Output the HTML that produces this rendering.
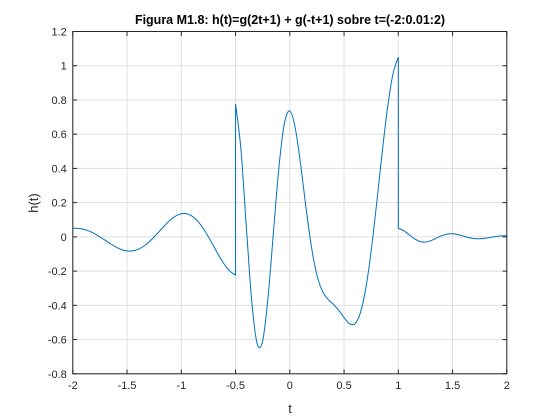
<!DOCTYPE html>
<html><head><meta charset="utf-8">
<style>
html,body{margin:0;padding:0;background:#fff;}
svg{display:block;font-family:"Liberation Sans",Arial,sans-serif;}
</style></head>
<body>
<svg id="chart" width="560" height="420" viewBox="0 0 560 420">
  <rect width="560" height="420" fill="#fff"/>
  <g id="grid"></g>
  <g id="series"></g>
  <rect x="72.8" y="31.5" width="434" height="342.3" fill="none" stroke="#262626" stroke-width="1"/>
  <g id="ticks"></g>
  <text x="290" y="24" text-anchor="middle" font-size="12.5" font-weight="bold" fill="#000">Figura M1.8: h(t)=g(2t+1) + g(-t+1) sobre t=(-2:0.01:2)</text>
  <text x="290" y="413" text-anchor="middle" font-size="13" fill="#262626">t</text>
  <text x="0" y="0" transform="translate(38,203) rotate(-90)" text-anchor="middle" font-size="13" fill="#262626">h(t)</text>
</svg>
<script>
const xTicks = [-2, -1.5, -1, -0.5, 0, 0.5, 1, 1.5, 2];
const xTickLabels = ["-2", "-1.5", "-1", "-0.5", "0", "0.5", "1", "1.5", "2"];
const yTicks = [-0.8, -0.6, -0.4, -0.2, 0, 0.2, 0.4, 0.6, 0.8, 1, 1.2];
const yTickLabels = ["-0.8", "-0.6", "-0.4", "-0.2", "0", "0.2", "0.4", "0.6", "0.8", "1", "1.2"];
const tVals = [-2,-1.95,-1.9,-1.85,-1.8,-1.75,-1.7,-1.65,-1.6,-1.55,-1.5,-1.45,-1.4,-1.35,-1.3,-1.25,-1.2,-1.15,-1.1,-1.05,-1,-0.95,-0.9,-0.85,-0.8,-0.75,-0.7,-0.65,-0.6,-0.55,-0.5,
 -0.5,-0.45,-0.4,-0.35,-0.3,-0.25,-0.2,-0.15,-0.1,-0.05,0,0.05,0.1,0.15,0.2,0.25,0.3,0.35,0.4,0.45,0.5,0.55,0.6,0.65,0.7,0.75,0.8,0.85,0.9,0.95,1,
 1,1.05,1.1,1.15,1.2,1.25,1.3,1.35,1.4,1.45,1.5,1.55,1.6,1.65,1.7,1.75,1.8,1.85,1.9,1.95,2];
const hVals = [0.0498,0.0497,0.0445,0.0340,0.0188,0,-0.0208,-0.0416,-0.0601,-0.0743,-0.0821,-0.0821,-0.0734,-0.0561,-0.0310,0,0.0342,0.0685,0.0991,0.1224,0.1353,0.1353,0.1210,0.0924,0.0511,0,-0.0565,-0.1129,-0.1633,-0.2018,-0.2231,
 0.7769,0.5089,0.0535,-0.3814,-0.6262,-0.6065,-0.3509,0.0331,0.4083,0.6618,0.7358,0.6368,0.4219,0.1672,-0.0607,-0.2231,-0.3167,-0.3633,-0.3929,-0.4277,-0.4712,-0.5074,-0.5081,-0.4452,-0.3023,-0.0821,0.1929,0.4851,0.7508,0.9492,1.0498,
 0.0498,0.0364,0.0126,-0.0114,-0.0270,-0.0302,-0.0221,-0.0076,0.0069,0.0163,0.0183,0.0134,0.0046,-0.0042,-0.0100,-0.0111,-0.0082,-0.0028,0.0025,0.0060,0.0067];

const L=72.8,R=506.8,T=31.5,B=373.8;
const xMin=-2,xMax=2,yMin=-0.8,yMax=1.2;
const NS="http://www.w3.org/2000/svg";
function sx(v){return L+(v-xMin)/(xMax-xMin)*(R-L);}
function sy(v){return B-(v-yMin)/(yMax-yMin)*(B-T);}
function mk(tag,attrs,parent){const e=document.createElementNS(NS,tag);for(const k in attrs)e.setAttribute(k,attrs[k]);parent.appendChild(e);return e;}
const grid=document.getElementById('grid'),ticks=document.getElementById('ticks'),series=document.getElementById('series');

xTicks.forEach((v,i)=>{
  const x=sx(v);
  const g=mk('line',{x1:x,x2:x,y1:T,y2:B,stroke:'#dfdfdf','stroke-width':1},grid);
  
  
  const t1=mk('line',{x1:x,x2:x,y1:B,y2:B-4.3,stroke:'#262626','stroke-width':1},ticks);
  
  
  const t2=mk('line',{x1:x,x2:x,y1:T,y2:T+4.3,stroke:'#262626','stroke-width':1},ticks);
  
  
  const lb=mk('text',{x:x,y:B+15,'text-anchor':'middle','font-size':11,fill:'#262626'},ticks);
  lb.textContent=xTickLabels[i];
  
  
});
yTicks.forEach((v,i)=>{
  const y=sy(v);
  const g=mk('line',{x1:L,x2:R,y1:y,y2:y,stroke:'#dfdfdf','stroke-width':1},grid);
  
  
  const t1=mk('line',{x1:L,x2:L+4.3,y1:y,y2:y,stroke:'#262626','stroke-width':1},ticks);
  
  
  const t2=mk('line',{x1:R,x2:R-4.3,y1:y,y2:y,stroke:'#262626','stroke-width':1},ticks);
  
  
  const lb=mk('text',{x:L-6,y:y+4,'text-anchor':'end','font-size':11,fill:'#262626'},ticks);
  lb.textContent=yTickLabels[i];
  
  
});

// split into segments at duplicate t values (jumps)
const segs=[];let cur=[];
for(let i=0;i<tVals.length;i++){
  if(i>0&&tVals[i]===tVals[i-1]){segs.push(cur);cur=[];}
  cur.push([sx(tVals[i]),sy(hVals[i])]);
}
segs.push(cur);
let d='';
segs.forEach((p,si)=>{
  d+=(si===0?'M':'L')+p[0][0].toFixed(2)+','+p[0][1].toFixed(2);
  for(let i=0;i<p.length-1;i++){
    const p0=p[Math.max(0,i-1)],p1=p[i],p2=p[i+1],p3=p[Math.min(p.length-1,i+2)];
    const c1x=p1[0]+(p2[0]-p0[0])/6,c1y=p1[1]+(p2[1]-p0[1])/6;
    const c2x=p2[0]-(p3[0]-p1[0])/6,c2y=p2[1]-(p3[1]-p1[1])/6;
    d+='C'+c1x.toFixed(2)+','+c1y.toFixed(2)+' '+c2x.toFixed(2)+','+c2y.toFixed(2)+' '+p2[0].toFixed(2)+','+p2[1].toFixed(2);
  }
});
const path=mk('path',{d:d,fill:'none',stroke:'#0072BD','stroke-width':1},series);


</script>
</body></html>
